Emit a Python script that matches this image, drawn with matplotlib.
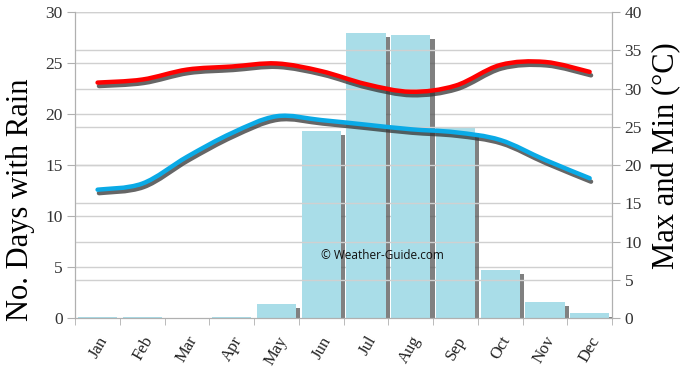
import numpy as np
import matplotlib
matplotlib.use("Agg")
import matplotlib.pyplot as plt
from matplotlib.path import Path
from matplotlib.patches import PathPatch
import matplotlib.patheffects as pe

months = ["Jan", "Feb", "Mar", "Apr", "May", "Jun", "Jul", "Aug", "Sep", "Oct", "Nov", "Dec"]
rain_days = [0.15, 0.15, 0.05, 0.15, 1.4, 18.4, 28.0, 27.8, 18.6, 4.7, 1.6, 0.55]
max_temp = [30.8, 31.2, 32.5, 32.9, 33.3, 32.3, 30.6, 29.6, 30.4, 33.1, 33.5, 32.2]
min_temp = [16.8, 17.6, 21.1, 24.2, 26.4, 25.9, 25.3, 24.7, 24.3, 23.3, 20.7, 18.3]

serif = ["Liberation Serif", "DejaVu Serif"]

fig = plt.figure(figsize=(6.9, 3.7), dpi=100)
ax = fig.add_axes([0.109, 0.14, 0.778, 0.827])
ax2 = ax.twinx()

x = np.arange(len(months))

grid_c = "#d0d0d0"
ax.set_ylim(0, 30)
ax2.set_ylim(0, 40)
ax.set_xlim(-0.5, 11.5)

# gridlines for both axes
for v in np.arange(5, 31, 5):
    ax.axhline(v, color=grid_c, lw=1, zorder=0)
for v in np.arange(5, 41, 5):
    ax2.axhline(v, color=grid_c, lw=1, zorder=0)

bars = ax.bar(x, rain_days, width=0.88, color="#a9dde8", edgecolor="none", zorder=2)
for b in bars:
    b.set_path_effects([pe.SimplePatchShadow(offset=(3, -3), shadow_rgbFace="#555555", alpha=0.75), pe.Normal()])


def smooth_path(xs, ys):
    pts = np.column_stack([xs, ys]).astype(float)
    n = len(pts)
    verts = [pts[0]]
    codes = [Path.MOVETO]
    for i in range(n - 1):
        p0 = pts[i - 1] if i > 0 else pts[i]
        p1 = pts[i]
        p2 = pts[i + 1]
        p3 = pts[i + 2] if i + 2 < n else pts[i + 1]
        c1 = p1 + (p2 - p0) / 6.0
        c2 = p2 - (p3 - p1) / 6.0
        verts += [c1, c2, p2]
        codes += [Path.CURVE4] * 3
    return Path(verts, codes)


for series, col in [(max_temp, "#ff0000"), (min_temp, "#0aaae6")]:
    patch = PathPatch(smooth_path(x, series), facecolor="none", edgecolor=col, lw=3.2,
                      capstyle="round", joinstyle="round", zorder=3)
    patch.set_path_effects([pe.Stroke(offset=(1, -2.5), linewidth=3.2, foreground="#333333", alpha=0.75),
                            pe.Normal()])
    ax2.add_patch(patch)

# axes styling
for a in (ax, ax2):
    a.spines["top"].set_visible(False)
    for s in ("left", "right", "bottom"):
        a.spines[s].set_color("#b0b0b0")
ax.set_xticks(x)
ax.set_xticklabels(months, rotation=60, fontsize=12, family=serif, ha="right",
                   rotation_mode="anchor")
ax.set_xticks(np.arange(-0.5, 12, 1), minor=True)
ax.tick_params(axis="x", which="major", length=0, pad=11)
ax.tick_params(axis="x", which="minor", length=5, color="#b0b0b0")

ax.set_yticks(np.arange(0, 31, 5))
ax2.set_yticks(np.arange(0, 41, 5))
ax.tick_params(axis="y", length=6, color="#b0b0b0", labelsize=12.5, pad=3)
ax2.tick_params(axis="y", length=6, color="#b0b0b0", labelsize=12.5, pad=3)
for lab in ax.get_yticklabels() + ax2.get_yticklabels():
    lab.set_family(serif)
    lab.set_color("#333333")
for lab in ax.get_xticklabels():
    lab.set_color("#222222")

ax.set_ylabel("No. Days with Rain", fontsize=22, family=serif)
ax.yaxis.set_label_coords(-0.101, 0.387)
ax2.set_ylabel("Max and Min (°C)", fontsize=22, family=serif, rotation=90)
ax2.yaxis.set_label_coords(1.102, 0.53)
ax.yaxis.label.set_va("center")
ax2.yaxis.label.set_va("center")

ax.text(0.573, 0.204, "© Weather-Guide.com", transform=ax.transAxes, ha="center", va="center",
        fontsize=8.5, family=["Open Sans", "DejaVu Sans"], color="#111111", zorder=5)

ax.set_zorder(1)
ax2.set_zorder(2)
ax2.patch.set_visible(False)

fig.savefig("out.png", dpi=100)
